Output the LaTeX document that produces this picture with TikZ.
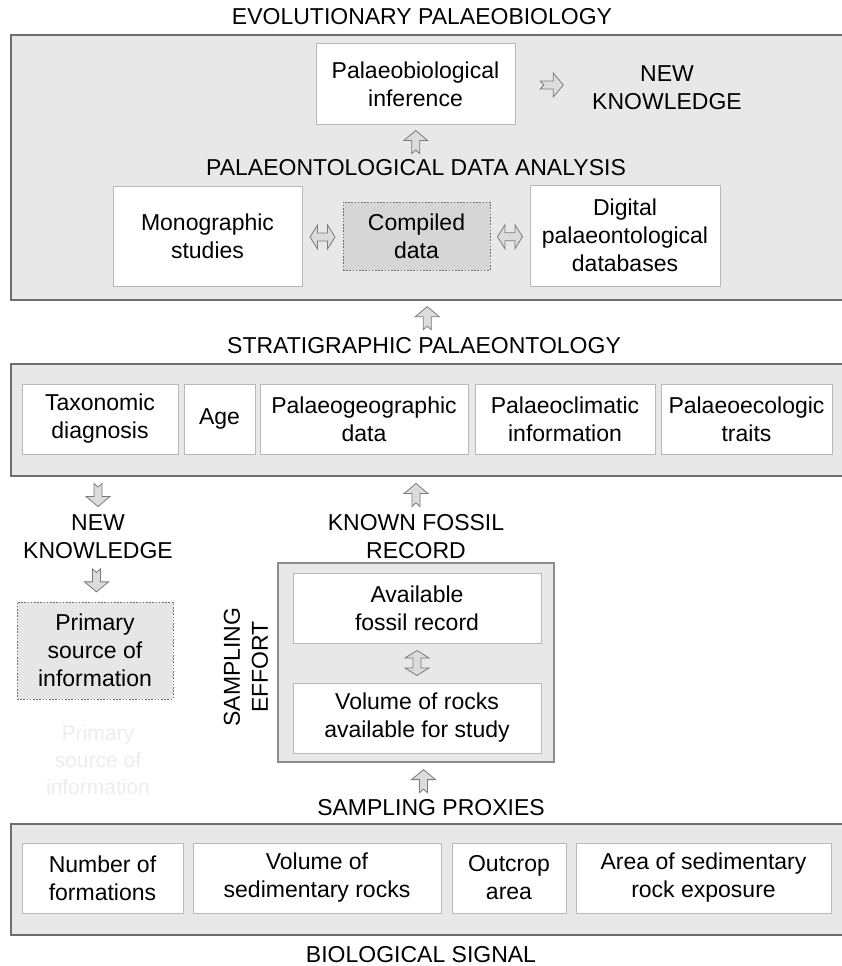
\documentclass[tikz,border=0pt]{standalone}
\usepackage{fontspec}
\setmainfont{Liberation Sans}
\usetikzlibrary{calc}
\definecolor{panel}{HTML}{E8E8E8}
\definecolor{panelline}{HTML}{6E6E6E}
\definecolor{tileline}{HTML}{B8B8B8}
\definecolor{arrfill}{HTML}{DCDCDC}
\definecolor{arrline}{HTML}{7A7A7A}
\definecolor{compfill}{HTML}{D6D6D6}
\definecolor{primfill}{HTML}{E6E6E6}
\definecolor{effline}{HTML}{8C8C8C}
\definecolor{ghost}{HTML}{EDEDED}
\begin{document}
\begin{tikzpicture}[x=1pt,y=-1pt,
  every node/.style={font=\fontsize{23}{28}\selectfont, inner sep=0pt, align=center, text=black},
  panelbox/.style={draw=panelline, line width=1.4pt, fill=panel},
  effbox/.style={draw=effline, line width=1.2pt, fill=panel},
  tile/.style={draw=tileline, line width=1pt, fill=white},
  dotbox/.style={draw=panelline, line width=0.9pt, dash pattern=on 1.6pt off 1.6pt},
  arrowstyle/.style={draw=arrline, fill=arrfill, line width=0.8pt, line join=miter},
  blockup/.pic={\draw[arrowstyle] (0,-11.5) -- (12,-1.5) -- (4,-1.5) -- (4,11.5) -- (0,8) -- (-4,11.5) -- (-4,-1.5) -- (-12,-1.5) -- cycle;},
  blockdbl/.pic={\draw[arrowstyle] (-12.5,0) -- (-5,-12) -- (-5,-4) -- (5,-4) -- (5,-12) -- (12.5,0) -- (5,12) -- (5,4) -- (-5,4) -- (-5,12) -- cycle;}
]
\useasboundingbox (0,0) rectangle (842,966);
\fill[white] (0,0) rectangle (842,966);

% ---------- top panel ----------
\node (evotitle) at (422,17) {EVOLUTIONARY PALAEOBIOLOGY};
\node[panelbox, minimum width=839, minimum height=265] (evo) at (430.5,167.5) {};
\node[tile, minimum width=199, minimum height=80] (infer) at (415.5,84) {Palaeobiological\\inference};
\node (newk1) at (667,88) {NEW\\KNOWLEDGE};
\node (pda) at (416,168) {PALAEONTOLOGICAL DATA ANALYSIS};
\node[tile, minimum width=189, minimum height=100] (mono) at (207.5,236) {Monographic\\studies};
\node[dotbox, fill=compfill, minimum width=147, minimum height=68] (comp) at (416.5,236) {Compiled\\data};
\node[tile, minimum width=190, minimum height=101] (digi) at (625,235.5) {Digital\\palaeontological\\databases};

\pic at ($(infer.south)!0.5!(pda.north)$) {blockup};
\pic[rotate=-90] at ($(infer.east)!0.5!(newk1.west)+(-2,-1)$) {blockup};
\pic at ($(mono.east)!0.5!(comp.west)+(0,1)$) {blockdbl};
\pic at ($(comp.east)!0.5!(digi.west)+(0,1)$) {blockdbl};

% ---------- stratigraphic panel ----------
\node (strat) at (424,346) {STRATIGRAPHIC PALAEONTOLOGY};
\pic at ($(evo.south)!0.5!(strat.north)+(0,-1)$) {blockup};
\node[panelbox, minimum width=839, minimum height=112] (stp) at (430.5,420) {};
\node[tile, minimum width=156, minimum height=70] (tax) at (100,419) {Taxonomic\\diagnosis};
\node[tile, minimum width=71, minimum height=70] (age) at (219.5,419) {Age};
\node[tile, minimum width=208, minimum height=70] (geo) at (364,419) {Palaeogeographic\\data};
\node[tile, minimum width=180, minimum height=70] (clim) at (565,419) {Palaeoclimatic\\information};
\node[tile, minimum width=171, minimum height=70] (eco) at (746.5,419) {Palaeoecologic\\traits};

% ---------- middle ----------
\node (newk2) at (98,537) {NEW\\KNOWLEDGE};
\node (known) at (416,537) {KNOWN FOSSIL\\RECORD};
\pic[rotate=180] at (98,495) {blockup};
\pic at (416,495) {blockup};
\node[dotbox, fill=primfill, minimum width=156, minimum height=97] (prim) at (95,650.5) {Primary\\source of\\information};
\pic[rotate=180] at ($(newk2.south)!0.5!(prim.north)$) {blockup};
\node[text=ghost, font=\fontsize{21}{27}\selectfont] (ghosttxt) at (98,760) {Primary\\source of\\information};

\node[effbox, minimum width=276, minimum height=199] (eff) at (416,662.5) {};
\node[tile, minimum width=248, minimum height=70] (avail) at (417,608) {Available\\fossil record};
\node[tile, minimum width=248, minimum height=70] (volr) at (417,718) {Volume of rocks\\available for study};
\pic[rotate=90] at ($(avail.south)!0.5!(volr.north)$) {blockdbl};
\node[rotate=90] (efflbl) at (246,667) {SAMPLING\\EFFORT};

% ---------- bottom panel ----------
\node (proxies) at (431,808) {SAMPLING PROXIES};
\pic at ($(eff.south)!0.5!(proxies.north)$) {blockup};
\node[panelbox, minimum width=839, minimum height=111] (bot) at (430.5,879.5) {};
\node[tile, minimum width=161, minimum height=70] (nform) at (102.5,878) {Number of\\formations};
\node[tile, minimum width=248, minimum height=70] (volsed) at (317,878) {Volume of\\sedimentary rocks};
\node[tile, minimum width=114, minimum height=70] (outc) at (509,878) {Outcrop\\area};
\node[tile, minimum width=255, minimum height=70] (areas) at (703.5,878) {Area of sedimentary\\rock exposure};
\node (bio) at (421,955) {BIOLOGICAL SIGNAL};
\end{tikzpicture}
\end{document}
